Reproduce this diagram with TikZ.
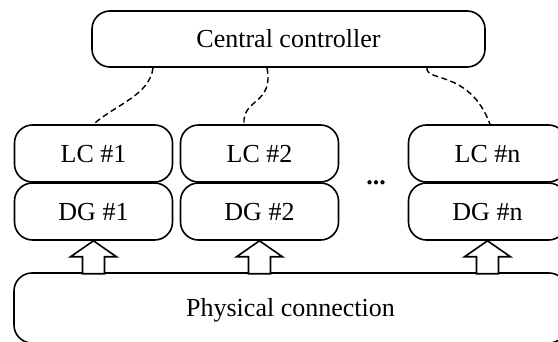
\documentclass[tikz,border=0pt]{standalone}
\usepackage{fontspec}
\setmainfont{Liberation Serif}
\begin{document}
\begin{tikzpicture}[x=1pt,y=-1pt,
  box/.style={draw, line width=1.6pt, rounded corners=18pt, inner sep=0pt,
    minimum width=158pt, minimum height=57pt,
    font=\fontsize{26}{31}\selectfont, text height=17.2pt, text depth=0pt},
  link/.style={line width=1.4pt, dash pattern=on 6pt off 3.5pt},
  blockarrow/.style={draw, line width=1.6pt, fill=white, line join=miter}
]
\useasboundingbox (0,0) rectangle (558,342);
\clip (0,0) rectangle (558,342);

\node[box, minimum width=393pt, minimum height=56pt] (cc) at (288.5,39) {Central controller};

\node[box] (lc1) at (93.5,153.5) {LC \#1};
\node[box] (dg1) at (93.5,211.5) {DG \#1};
\node[box] (lc2) at (259.5,153.5) {LC \#2};
\node[box] (dg2) at (259.5,211.5) {DG \#2};
\node[box] (lcn) at (487.5,153.5) {LC \#n};
\node[box] (dgn) at (487.5,211.5) {DG \#n};

\node[font=\fontsize{26}{31}\selectfont\bfseries, anchor=base, inner sep=0pt] (dots) at (376,185) {...};

\node[box, minimum width=553pt, minimum height=70pt] (phys) at (290.5,308) {Physical connection};

% dashed links
\draw[link] (cc.south -| 153,0) .. controls (150,95) and (115,105) .. (lc1.north);
\draw[link] (cc.south -| 267,0) .. controls (274,105) and (242,98) .. (lc2.north -| 244,0);
\draw[link] (cc.south -| 427,0) .. controls (425,82) and (470,70) .. (lcn.north -| 490,0);

% block arrows
\foreach \g in {dg1,dg2,dgn}{
  \draw[blockarrow] (\g.south) -- ++(23,16) -- ++(-12,0) -- ++(0,17) -- ++(-22,0)
     -- ++(0,-17) -- ++(-12,0) -- cycle;
}
\end{tikzpicture}
\end{document}
